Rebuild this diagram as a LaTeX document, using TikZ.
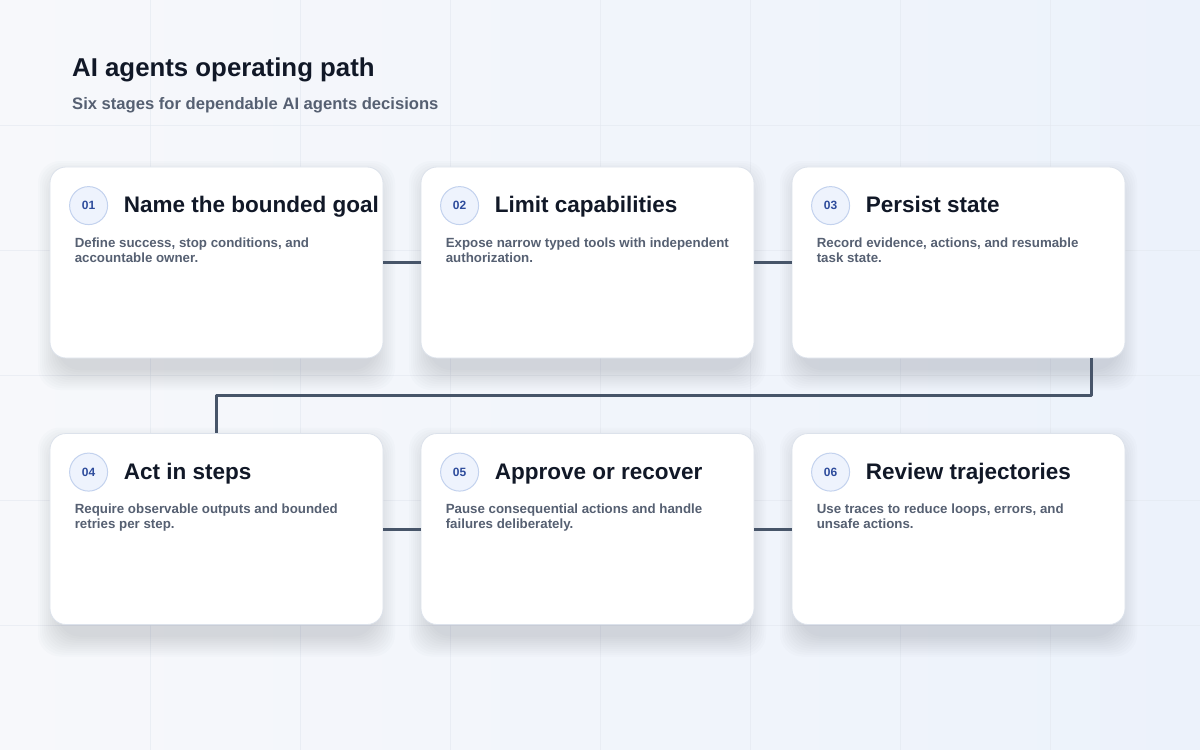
\documentclass[tikz,border=0pt]{standalone}
\usepackage{fontspec}
\setmainfont{Liberation Sans}
\usetikzlibrary{positioning}
\definecolor{bgleft}{HTML}{F7F8FB}
\definecolor{bgright}{HTML}{ECF2FB}
\definecolor{gridcol}{HTML}{E3E8F0}
\definecolor{cardline}{HTML}{DCE2EB}
\definecolor{ink}{HTML}{111827}
\definecolor{muted}{HTML}{566072}
\definecolor{badgefill}{HTML}{EEF3FD}
\definecolor{badgeline}{HTML}{C3D2EE}
\definecolor{badgetext}{HTML}{2E4C9C}
\definecolor{wire}{HTML}{475569}
\definecolor{shadowcol}{HTML}{33415E}
\tikzset{
  card/.style={draw=cardline, fill=white, line width=0.8bp, rounded corners=16bp,
    minimum width=333bp, minimum height=191bp, inner sep=0pt},
  badge/.style={circle, draw=badgeline, fill=badgefill, line width=1bp, minimum size=38bp,
    inner sep=0pt, text=badgetext, font=\fontsize{12bp}{14bp}\selectfont\bfseries},
  head/.style={anchor=base west, inner sep=0pt, text=ink, font=\fontsize{22.5bp}{26bp}\selectfont\bfseries},
  blurb/.style={anchor=north west, inner sep=0pt, align=left, text=muted,
    font=\fontsize{13.3bp}{15bp}\selectfont\bfseries},
  wireline/.style={draw=wire, line width=3bp}
}
\begin{document}
\begin{tikzpicture}[x=1bp, y=-1bp, line join=round]
	\shade[left color=bgleft, right color=bgright] (0,0) rectangle (1200,750);
	\useasboundingbox (0,0) rectangle (1200,750);
	\foreach \x in {150,300,...,1050} \draw[gridcol, opacity=0.6, line width=0.6bp] (\x,0) -- (\x,750);
	\foreach \y in {125,250,...,625} \draw[gridcol, opacity=0.6, line width=0.6bp] (0,\y) -- (1200,\y);
	
	\node[anchor=base west, inner sep=0pt, text=ink, font=\fontsize{25.8bp}{30bp}\selectfont\bfseries] (title) at (72,77) {AI agents operating path};
	\node[anchor=base west, inner sep=0pt, text=muted, font=\fontsize{16.6bp}{19bp}\selectfont\bfseries] (subtitle) at (72,110) {Six stages for dependable AI agents decisions};
	
	% soft shadows under the cards
	\foreach \x/\y in {216.5/262.5, 587.5/262.5, 958.5/262.5, 216.5/529, 587.5/529, 958.5/529}
	\foreach \s in {0,2,...,20}
	\fill[shadowcol, opacity=0.014, rounded corners=22bp] (\x-166.5-\s+8,\y-95.5-\s+14) rectangle (\x+166.5+\s-8,\y+95.5+\s+12);
	
	\foreach \n/\x/\y/\t/\d in {
		1/216.5/262.5/Name the bounded goal/{Define success, stop conditions, and\\accountable owner.},
		2/587.5/262.5/Limit capabilities/{Expose narrow typed tools with independent\\authorization.},
		3/958.5/262.5/Persist state/{Record evidence, actions, and resumable\\task state.},
		4/216.5/529/Act in steps/{Require observable outputs and bounded\\retries per step.},
		5/587.5/529/Approve or recover/{Pause consequential actions and handle\\failures deliberately.},
		6/958.5/529/Review trajectories/{Use traces to reduce loops, errors, and\\unsafe actions.}}
	{
		\node[card] (c\n) at (\x,\y) {};
		\node[badge] (b\n) at ([shift={(39,39)}]c\n.north west) {0\n};
		\node[head] (h\n) at ([shift={(74,46)}]c\n.north west) {\t};
		\node[blurb] (d\n) at ([shift={(25,71)}]c\n.north west) {\d};
	}
	
	\draw[wireline] (c1.east) -- (c2.west);
	\draw[wireline] (c2.east) -- (c3.west);
	\draw[wireline] ([shift={(-34,0)}]c3.south east) -- ++(0,37) -| (c4.north);
	\draw[wireline] (c4.east) -- (c5.west);
	\draw[wireline] (c5.east) -- (c6.west);
\end{tikzpicture}
\end{document}
